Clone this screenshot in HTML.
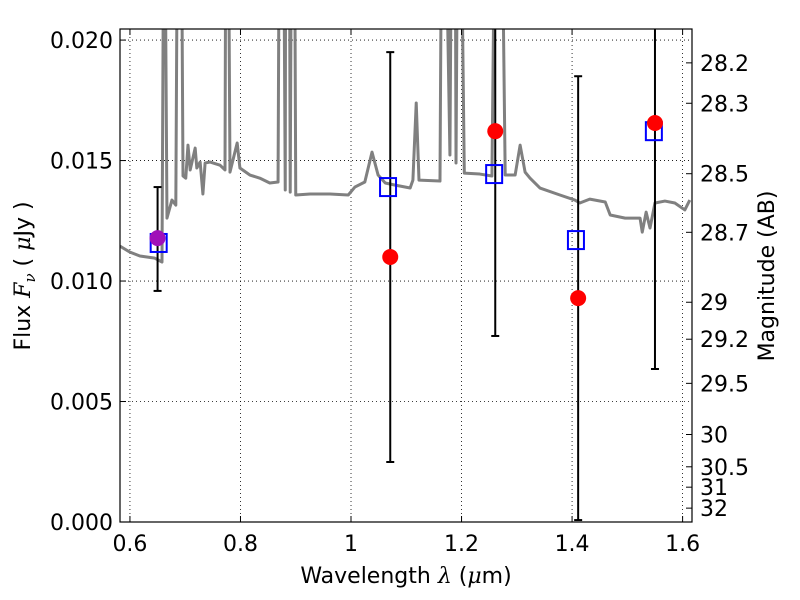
<!DOCTYPE html>
<html><head><meta charset="utf-8">
<style>body{margin:0;background:#fff}svg{display:block;font-family:"DejaVu Sans","Liberation Sans",sans-serif}</style>
</head><body>
<svg id="c" width="800" height="600"></svg>
<script>
const specWave=[0.582,0.600,0.618,0.645,0.658,0.662,0.667,0.676,0.683,0.687,0.692,0.696,0.701,0.705,0.709,0.718,0.721,0.727,0.732,0.736,0.745,0.763,0.772,0.774,0.777,0.781,0.794,0.799,0.817,0.835,0.853,0.868,0.871,0.877,0.881,0.882,0.888,0.890,0.893,0.897,0.900,0.926,0.962,0.995,1.007,1.025,1.038,1.049,1.062,1.080,1.107,1.112,1.118,1.123,1.161,1.165,1.168,1.179,1.183,1.188,1.190,1.194,1.197,1.205,1.233,1.255,1.262,1.271,1.279,1.297,1.306,1.315,1.324,1.342,1.378,1.405,1.414,1.432,1.460,1.469,1.496,1.523,1.527,1.534,1.541,1.550,1.568,1.586,1.604,1.613];
const specFlux=[0.01145,0.01120,0.01104,0.01095,0.01079,0.03,0.01261,0.01336,0.01315,0.03,0.03,0.01436,0.01427,0.01564,0.01461,0.01552,0.01469,0.01494,0.01361,0.01490,0.01494,0.01481,0.01461,0.03,0.03,0.01452,0.01573,0.01469,0.01440,0.01427,0.01407,0.01411,0.03,0.03,0.01378,0.03,0.03,0.01369,0.03,0.03,0.01357,0.01361,0.01361,0.01357,0.01390,0.01411,0.01535,0.01440,0.01407,0.01398,0.01386,0.01419,0.01739,0.01419,0.01415,0.03,0.03,0.01523,0.03,0.03,0.01490,0.03,0.03,0.01448,0.01444,0.01436,0.03,0.03,0.01440,0.01440,0.01564,0.01452,0.01427,0.01386,0.01357,0.01336,0.01324,0.01340,0.01328,0.01274,0.01261,0.01261,0.01203,0.01286,0.01220,0.01324,0.01332,0.01324,0.01295,0.01336];
const obsWave=[0.650,1.071,1.261,1.411,1.550];
const obsFlux=[0.01178,0.0110,0.01622,0.00929,0.01656];
const errLo=[0.00959,0.00249,0.00772,0.00008,0.00635];
const errHi=[0.0139,0.0195,0.0247,0.0185,0.0269];
const modWave=[0.652,1.067,1.259,1.407,1.548];
const modFlux=[0.01158,0.0139,0.01444,0.0117,0.01622];
const xTicks=[0.6,0.8,1.0,1.2,1.4,1.6];
const xTickLabels=["0.6","0.8","1","1.2","1.4","1.6"];
const yTicks=[0,0.005,0.010,0.015,0.020];
const yTickLabels=["0.000","0.005","0.010","0.015","0.020"];
const magTicks=[28.2,28.3,28.5,28.7,29,29.2,29.5,30,30.5,31,32];

const L=120,R=692,T=29,B=522;
const x0=0.582,x1=1.617,y0=0,y1=0.02046;
const X=v=>L+(v-x0)/(x1-x0)*(R-L);
const Y=v=>B-(v-y0)/(y1-y0)*(B-T);
const NS="http://www.w3.org/2000/svg";
const svg=document.getElementById('c');
function mk(tag,attrs,parent){const e=document.createElementNS(NS,tag);for(const k in attrs)e.setAttribute(k,attrs[k]);(parent||svg).appendChild(e);return e;}
const defs=mk('defs',{});const cp=mk('clipPath',{id:'clip'},defs);mk('rect',{x:L,y:T,width:R-L,height:B-T},cp);
const plot=mk('g',{'clip-path':'url(#clip)'});


xTicks.forEach(t=>{const g=mk('line',{x1:X(t),x2:X(t),y1:T,y2:B,stroke:'#000','stroke-width':0.8,'stroke-dasharray':'1,3'},plot);

});
yTicks.forEach(t=>{const g=mk('line',{x1:L,x2:R,y1:Y(t),y2:Y(t),stroke:'#000','stroke-width':0.8,'stroke-dasharray':'1,3'},plot);

});
const sp=mk('polyline',{points:specWave.map((w,i)=>X(w)+','+Y(specFlux[i])).join(' '),fill:'none',stroke:'#808080','stroke-width':3,'stroke-linejoin':'round'},plot);


obsWave.forEach((w,i)=>{const g=mk('g',{stroke:'#000','stroke-width':2},plot);


const xx=X(w);mk('line',{x1:xx,x2:xx,y1:Y(errLo[i]),y2:Y(errHi[i])},g);
mk('line',{x1:xx-4,x2:xx+4,y1:Y(errLo[i]),y2:Y(errLo[i])},g);
mk('line',{x1:xx-4,x2:xx+4,y1:Y(errHi[i]),y2:Y(errHi[i])},g);});
modWave.forEach((w,i)=>{const s=mk('rect',{x:X(w)-8,y:Y(modFlux[i])-9,width:16,height:18,fill:'none',stroke:'#0000ff','stroke-width':2},plot);

});
obsWave.forEach((w,i)=>{const c=mk('circle',{cx:X(w),cy:Y(obsFlux[i]),r:8,fill:i===0?'#a010b8':'#ff0000'},plot);

});
const fr=mk('rect',{x:L,y:T,width:R-L,height:B-T,fill:'none',stroke:'#000','stroke-width':1.2});


xTicks.forEach((t,i)=>{const xx=X(t);mk('line',{x1:xx,x2:xx,y1:B,y2:B-6,stroke:'#000'});mk('line',{x1:xx,x2:xx,y1:T,y2:T+6,stroke:'#000'});
const tx=mk('text',{x:xx,y:B+29,'font-size':22,'text-anchor':'middle'});tx.textContent=xTickLabels[i];

});
yTicks.forEach((t,i)=>{const yy=Y(t);mk('line',{x1:L,x2:L+6,y1:yy,y2:yy,stroke:'#000'});
const tx=mk('text',{x:L-7,y:yy+8,'font-size':22,'text-anchor':'end'});tx.textContent=yTickLabels[i];

});
magTicks.forEach(m=>{const f=Math.pow(10,(23.9-m)/2.5);const yy=Y(f);mk('line',{x1:R,x2:R-6,y1:yy,y2:yy,stroke:'#000'});
const tx=mk('text',{x:R+8,y:yy+8,'font-size':22});tx.textContent=String(m);

});
const xl=mk('text',{x:406,y:583,'font-size':22,'text-anchor':'middle'});xl.innerHTML='Wavelength  <tspan font-style="italic" font-family="DejaVu Serif,serif">λ</tspan> (<tspan font-style="italic" font-family="DejaVu Serif,serif">μ</tspan>m)';


const yl=mk('text',{transform:'translate(30,276) rotate(-90)','font-size':22,'text-anchor':'middle'});yl.innerHTML='Flux  <tspan font-style="italic" font-family="DejaVu Serif,serif">F<tspan font-size="15" dy="5">ν</tspan></tspan><tspan dy="-5">  ( </tspan><tspan font-style="italic" font-family="DejaVu Serif,serif">μ</tspan>Jy )';


const yr=mk('text',{transform:'translate(774,276) rotate(-90)','font-size':22,'text-anchor':'middle'});yr.textContent='Magnitude (AB)';


</script>
</body></html>
